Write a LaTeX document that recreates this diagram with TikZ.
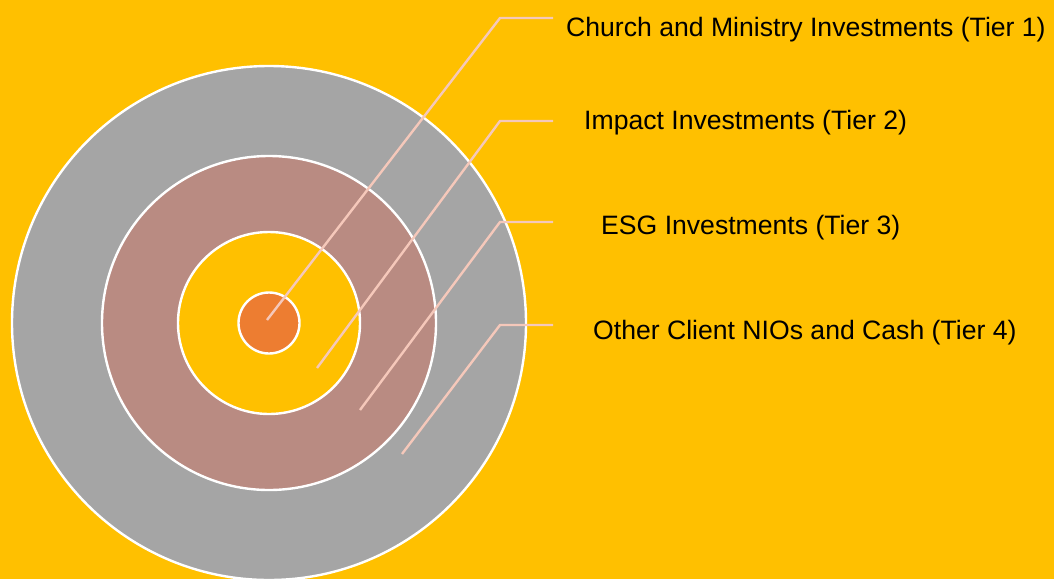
\documentclass[tikz,border=0pt]{standalone}
\usepackage{fontspec}
\setmainfont{Liberation Sans}
\definecolor{bgyellow}{HTML}{FFC000}
\definecolor{ringgray}{HTML}{A5A5A5}
\definecolor{ringrose}{HTML}{B98B82}
\definecolor{coreorange}{HTML}{ED7D31}
\definecolor{leadercol}{HTML}{F5C8BA}
\begin{document}
\begin{tikzpicture}[x=1pt,y=-1pt,
  ring/.style={circle,draw=white,line width=2.4pt,inner sep=0pt},
  leader/.style={draw=leadercol,line width=2.4pt},
  lbl/.style={anchor=base west,inner sep=0pt,font=\fontsize{26.6}{32}\selectfont,text=black}]
\fill[bgyellow] (0,0) rectangle (1054,579);
\useasboundingbox (0,0) rectangle (1054,579);
\clip (0,0) rectangle (1054,579);
\node[ring,fill=ringgray,minimum size=514pt] (t4) at (269,323) {};
\node[ring,fill=ringrose,minimum size=334pt] (t3) at (269,323) {};
\node[ring,fill=bgyellow,minimum size=182pt] (t2) at (269,323) {};
\node[ring,fill=coreorange,minimum size=61pt] (t1) at (269,323) {};
% leaders
\coordinate (s1) at (267,320); \coordinate (b1) at (500,18); \coordinate (e1) at (553,18);
\coordinate (s2) at (317,368); \coordinate (b2) at (500,121); \coordinate (e2) at (553,121);
\coordinate (s3) at (360,410); \coordinate (b3) at (500,222); \coordinate (e3) at (553,222);
\coordinate (s4) at (402,454); \coordinate (b4) at (500,325); \coordinate (e4) at (553,325);
\draw[leader] (s1) -- (b1) -- (e1);
\draw[leader] (s2) -- (b2) -- (e2);
\draw[leader] (s3) -- (b3) -- (e3);
\draw[leader] (s4) -- (b4) -- (e4);
\node[lbl] (l1) at (566,36) {Church and Ministry Investments (Tier 1)};
\node[lbl] (l2) at (584,129) {Impact Investments (Tier 2)};
\node[lbl] (l3) at (601,234) {ESG Investments (Tier 3)};
\node[lbl] (l4) at (593,339) {Other Client NIOs and Cash (Tier 4)};
\end{tikzpicture}
\end{document}
